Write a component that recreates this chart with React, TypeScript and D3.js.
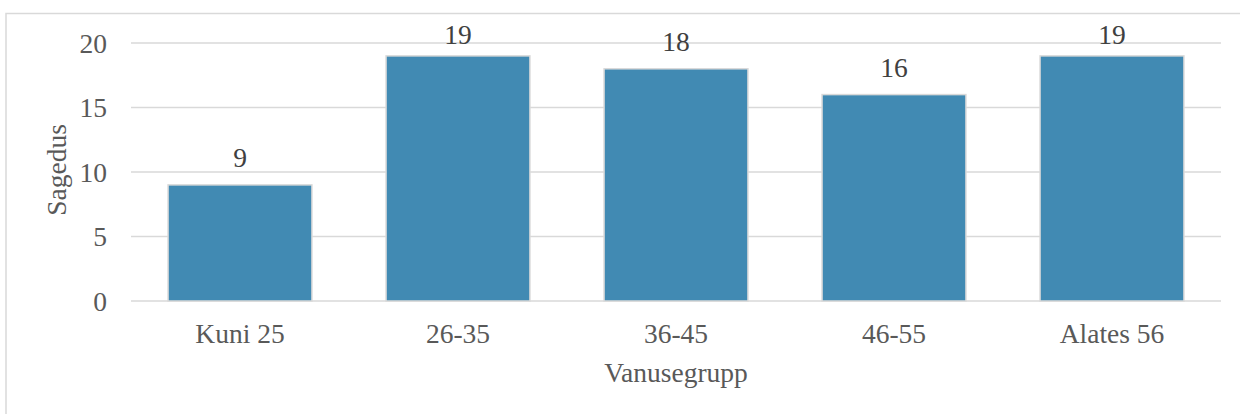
import React from "react";
import * as d3 from "d3";

const categories = ["Kuni 25", "26-35", "36-45", "46-55", "Alates 56"];
const frequencies = [9, 19, 18, 16, 19];
const yTicks = [0, 5, 10, 15, 20];
const xTitle = "Vanusegrupp";
const yTitle = "Sagedus";

const W = 1240;
const H = 414;
const margin = { left: 131, right: 19, top: 43, bottom: 113 };
const FONT = "'Liberation Serif', 'Times New Roman', serif";

export default function App() {
  const x = d3
    .scaleBand<string>()
    .domain(categories)
    .range([margin.left, W - margin.right])
    .paddingInner(0.34)
    .paddingOuter(0.17);
  const y = d3
    .scaleLinear()
    .domain([0, 20])
    .range([H - margin.bottom, margin.top]);

  const plotTop = y(20);
  const plotBottom = y(0);

  return (
    <svg
      width={W}
      height={H}
      style={{ position: "absolute", left: 0, top: 0, background: "#fff" }}
      fontFamily={FONT}
    >
      {/* chart frame */}
      <rect x={6} y={13.5} width={W + 10} height={H + 10} fill="none" stroke="#d9d9d9" strokeWidth={1.5} />

      {/* horizontal gridlines */}
      {yTicks.map((t) => (
        <line
          key={t}
          x1={margin.left}
          x2={W - margin.right}
          y1={y(t)}
          y2={y(t)}
          stroke="#d9d9d9"
          strokeWidth={1.5}
        />
      ))}

      {/* y tick labels */}
      {yTicks.map((t) => (
        <text key={t} x={107} y={y(t) + 9.5} textAnchor="end" fontSize={27.5} fill="#595959">
          {t}
        </text>
      ))}

      {/* bars */}
      {categories.map((c, i) => (
        <rect
          key={c}
          x={x(c)!}
          y={y(frequencies[i])}
          width={x.bandwidth()}
          height={y(0) - y(frequencies[i])}
          fill="#418ab3"
          stroke="#d9d9d9"
          strokeWidth={1.5}
        />
      ))}

      {/* value labels, kept inside the plot area */}
      {categories.map((c, i) => (
        <text
          key={c}
          x={x(c)! + x.bandwidth() / 2}
          y={Math.max(y(frequencies[i]) - 18, plotTop + 0.5)}
          textAnchor="middle"
          fontSize={27.5}
          fill="#404040"
        >
          {frequencies[i]}
        </text>
      ))}

      {/* category labels */}
      {categories.map((c) => (
        <text
          key={c}
          x={x(c)! + x.bandwidth() / 2}
          y={plotBottom + 42}
          textAnchor="middle"
          fontSize={27.5}
          fill="#595959"
        >
          {c}
        </text>
      ))}

      {/* axis titles */}
      <text
        x={(margin.left + W - margin.right) / 2}
        y={382}
        textAnchor="middle"
        fontSize={27.5}
        fill="#595959"
      >
        {xTitle}
      </text>
      <text
        transform={`translate(66, ${(plotTop + plotBottom) / 2 - 2}) rotate(-90)`}
        textAnchor="middle"
        fontSize={27.5}
        fill="#595959"
      >
        {yTitle}
      </text>
    </svg>
  );
}
